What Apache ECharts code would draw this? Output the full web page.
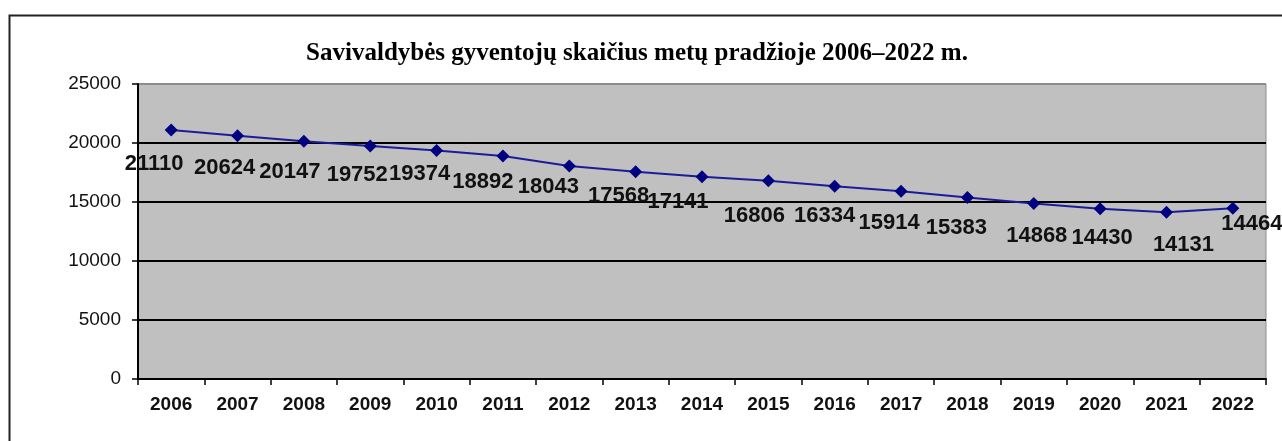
<!DOCTYPE html>
<html>
<head>
<meta charset="utf-8">
<script src="https://cdn.jsdelivr.net/npm/echarts@6/dist/echarts.min.js"></script>
<style>
  html, body { margin: 0; padding: 0; background: #ffffff; }
  #chart { width: 1282px; height: 441px; }
</style>
</head>
<body>
<div id="chart"></div>
<script>
var years = ['2006','2007','2008','2009','2010','2011','2012','2013','2014','2015','2016','2017','2018','2019','2020','2021','2022'];
var population = [21110, 20624, 20147, 19752, 19374, 18892, 18043, 17568, 17141, 16806, 16334, 15914, 15383, 14868, 14430, 14131, 14464];
var yTicks = [0, 5000, 10000, 15000, 20000, 25000];
var titleText = 'Savivaldybės gyventojų skaičius metų pradžioje 2006–2022 m.';
// label offsets relative to each marker (styling only)
var labelOffsets = [[-17,34],[-13,32],[-14,31],[-13,29],[-17,24],[-20,26],[-21,21],[-17,24],[-24,25],[-14,35],[-10,30],[-12,32],[-11,30],[3,32],[2,29],[17,33],[19,16]];

var chart = echarts.init(document.getElementById('chart'), null, { renderer: 'canvas' });

var seriesData = population.map(function (v, i) {
  return {
    value: v,
    label: { offset: labelOffsets[i] }
  };
});

var option = {
  animation: false,
  backgroundColor: '#ffffff',
  title: {
    text: titleText,
    left: 632,
    textAlign: 'center',
    top: 36,
    textStyle: {
      fontFamily: "'Liberation Serif', 'Times New Roman', serif",
      fontWeight: 'bold',
      fontSize: 25,
      color: '#000000'
    }
  },
  graphic: [{
    type: 'rect',
    left: 7,
    top: 13,
    shape: { x: 0, y: 0, width: 1300, height: 440 },
    style: { fill: 'none', stroke: '#222222', lineWidth: 2 },
    z: 100
  }],
  grid: {
    left: 138,
    right: 16,
    top: 84,
    bottom: 62,
    show: true,
    backgroundColor: '#c0c0c0',
    borderColor: '#8c8c8c',
    borderWidth: 1
  },
  xAxis: {
    type: 'category',
    data: years,
    boundaryGap: true,
    axisLine: { show: true, lineStyle: { color: '#000000', width: 2 } },
    axisTick: { show: true, length: 6, lineStyle: { color: '#000000', width: 1.5 } },
    axisLabel: {
      margin: 16,
      fontFamily: "'Liberation Sans', Arial, sans-serif",
      fontWeight: 'bold',
      fontSize: 19,
      color: '#111111'
    },
    splitLine: { show: false }
  },
  yAxis: {
    type: 'value',
    min: yTicks[0],
    max: yTicks[yTicks.length - 1],
    interval: yTicks[1] - yTicks[0],
    axisLine: { show: true, lineStyle: { color: '#000000', width: 2 } },
    axisTick: { show: true, length: 6, lineStyle: { color: '#000000', width: 1.5 } },
    axisLabel: {
      margin: 17,
      fontFamily: "'Liberation Sans', Arial, sans-serif",
      fontSize: 19,
      color: '#111111',
      formatter: function (v) { return String(v); }
    },
    splitLine: {
      show: true,
      lineStyle: { color: ['#000000','#000000','#000000','#000000','#000000','#8c8c8c'], width: 2 }
    }
  },
  series: [{
    type: 'line',
    data: seriesData,
    symbol: 'diamond',
    symbolSize: 13,
    lineStyle: { color: '#1c1c9a', width: 2 },
    itemStyle: { color: '#000080' },
    label: {
      show: true,
      position: 'inside',
      align: 'center',
      verticalAlign: 'middle',
      fontFamily: "'Liberation Sans', Arial, sans-serif",
      fontWeight: 'bold',
      fontSize: 22,
      color: '#111111'
    },
    z: 5
  }]
};

chart.setOption(option);
</script>
</body>
</html>
